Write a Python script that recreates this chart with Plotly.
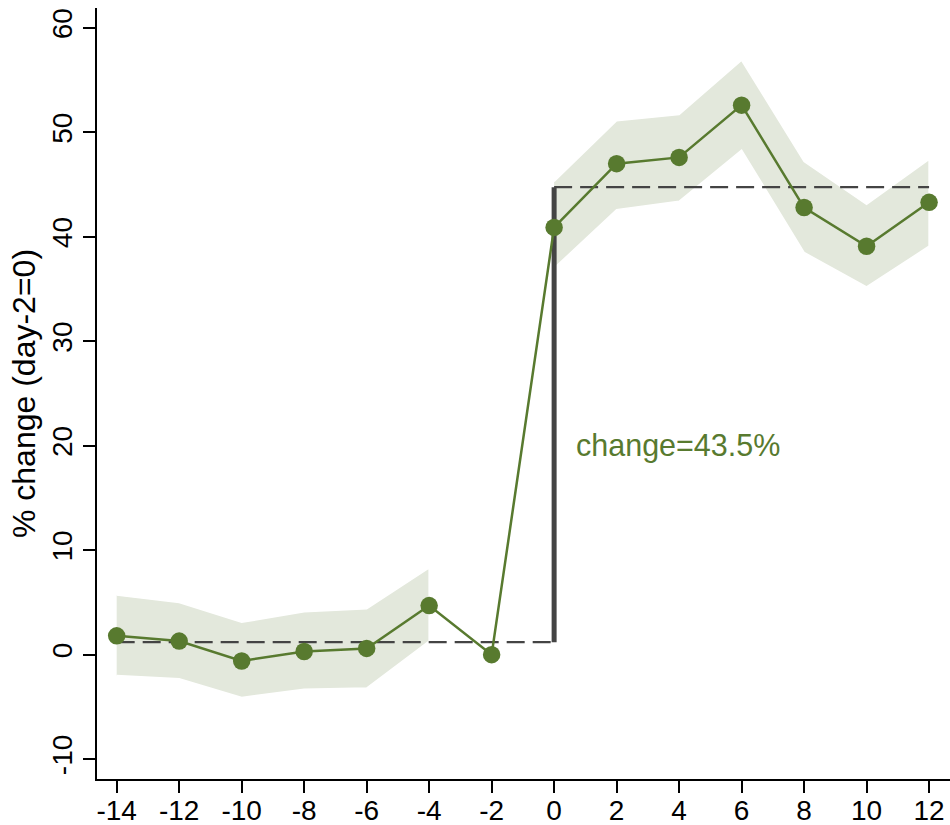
import plotly.graph_objects as go

days = [-14, -12, -10, -8, -6, -4, -2, 0, 2, 4, 6, 8, 10, 12]
pct_change = [1.8, 1.3, -0.6, 0.3, 0.6, 4.7, 0.0, 40.9, 47.0, 47.6, 52.6, 42.8, 39.1, 43.3]

pre_days = [-14, -12, -10, -8, -6, -4]
pre_upper = [5.7, 5.0, 3.1, 4.1, 4.4, 8.3]
pre_lower = [-2.0, -2.3, -4.1, -3.3, -3.2, 1.3]

post_days = [0, 2, 4, 6, 8, 10, 12]
post_upper = [45.3, 51.1, 51.7, 56.9, 47.2, 43.1, 47.4]
post_lower = [37.0, 42.6, 43.4, 48.3, 38.5, 35.2, 39.1]

pre_mean = 1.2
post_mean = 44.75
change_label = "change=43.5%"

x_ticks = list(range(-14, 13, 2))
x_labels = [str(v) for v in x_ticks]
y_ticks = [-10, 0, 10, 20, 30, 40, 50, 60]
y_labels = [str(v) for v in y_ticks]

green = "#587a2f"
band = "#e3e8dc"
dark = "#444444"
font = "Liberation Sans, Arial, sans-serif"

fig = go.Figure()

for xs, up, lo in [(pre_days, pre_upper, pre_lower), (post_days, post_upper, post_lower)]:
    fig.add_trace(go.Scatter(
        x=xs + xs[::-1], y=up + lo[::-1], fill="toself", fillcolor=band,
        line=dict(color="white", width=1.5), mode="lines", hoverinfo="skip",
        showlegend=False))

fig.add_trace(go.Scatter(x=[-14, 0], y=[pre_mean, pre_mean], mode="lines",
                         line=dict(color=dark, width=2.2, dash="18px,8px"), showlegend=False))
fig.add_trace(go.Scatter(x=[0, 12], y=[post_mean, post_mean], mode="lines",
                         line=dict(color=dark, width=2.2, dash="18px,8px"), showlegend=False))
fig.add_trace(go.Scatter(x=[0, 0], y=[pre_mean, post_mean], mode="lines",
                         line=dict(color=dark, width=5), showlegend=False))

fig.add_trace(go.Scatter(x=days, y=pct_change, mode="lines+markers",
                         line=dict(color=green, width=2.5),
                         marker=dict(color=green, size=17.5), showlegend=False))

fig.add_annotation(x=0.65, y=20, text=change_label, showarrow=False, xanchor="left",
                   yanchor="middle", font=dict(family=font, size=30.5, color=green))

fig.update_layout(
    width=950, height=825,
    margin=dict(l=97, r=0, t=8, b=46),
    plot_bgcolor="white", paper_bgcolor="white",
    font=dict(family=font, size=28, color="black"),
    xaxis=dict(range=[-14.63, 12.67], tickvals=x_ticks, ticktext=x_labels, ticks="outside",
               ticklen=12, tickwidth=2, tickcolor="black", showline=True, linecolor="black",
               linewidth=2, showgrid=False, zeroline=False, tickfont=dict(size=28),
               automargin=False, ticklabelstandoff=-7),
    yaxis=dict(range=[-11.9, 61.9], tickvals=y_ticks, ticktext=y_labels, ticks="outside",
               ticklen=12, tickwidth=2, tickcolor="black", showline=True, linecolor="black",
               linewidth=2, showgrid=False, zeroline=False, tickangle=-90,
               tickfont=dict(size=28), automargin=False,
               title=dict(text="% change (day-2=0)", font=dict(size=32), standoff=2)),
)

fig.write_html("out.html")
